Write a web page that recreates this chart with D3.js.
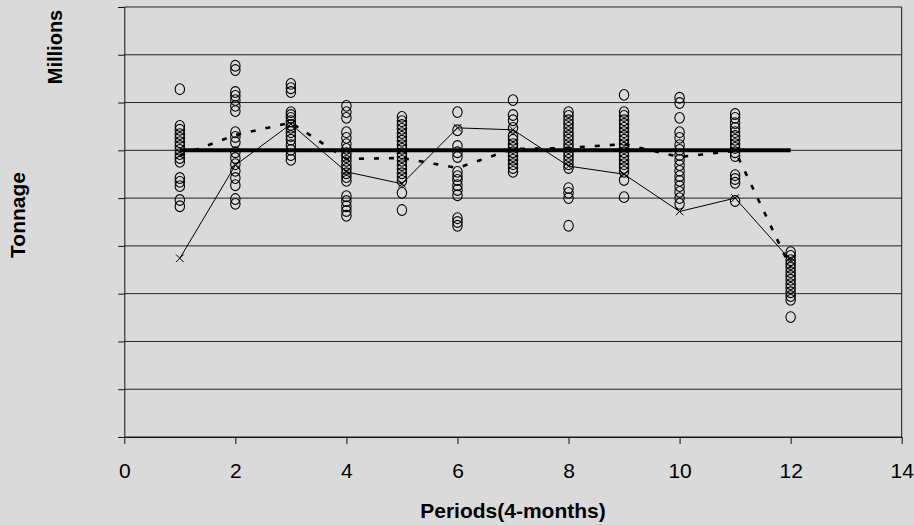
<!DOCTYPE html>
<html>
<head>
<meta charset="utf-8">
<script src="https://cdn.jsdelivr.net/npm/d3@7"></script>
<style>
  html, body { margin: 0; padding: 0; background: #dadada; }
  svg { display: block; }
  text { font-family: "Liberation Sans", Arial, sans-serif; fill: #000; }
</style>
</head>
<body>
<svg id="chart" width="914" height="525"></svg>
<script>
// Periods (4-month blocks) on the x axis
const periods = [1, 2, 3, 4, 5, 6, 7, 8, 9, 10, 11, 12];

// Individual tonnage observations per period (millions)
const observations = [
  [7.28, 6.51, 6.43, 6.34, 6.26, 6.17, 6.09, 6.01, 5.92, 5.84, 5.76, 5.42, 5.34, 5.25, 4.96, 4.83],
  [7.77, 7.68, 7.22, 7.14, 7.05, 6.93, 6.82, 6.38, 6.28, 6.17, 5.96, 5.84, 5.71, 5.57, 5.42, 5.27, 4.98, 4.88],
  [7.39, 7.30, 7.22, 6.80, 6.74, 6.68, 6.61, 6.53, 6.47, 6.38, 6.30, 6.22, 6.11, 6.01, 5.90, 5.80],
  [6.93, 6.80, 6.68, 6.38, 6.26, 6.13, 6.03, 5.94, 5.86, 5.78, 5.69, 5.61, 5.52, 5.44, 5.36, 5.04, 4.94, 4.83, 4.73, 4.63],
  [6.70, 6.61, 6.53, 6.45, 6.36, 6.28, 6.20, 6.11, 6.03, 5.94, 5.86, 5.78, 5.69, 5.61, 5.52, 5.44, 5.36, 5.11, 4.75],
  [6.80, 6.42, 6.09, 5.96, 5.86, 5.55, 5.46, 5.38, 5.27, 5.17, 5.06, 4.58, 4.50, 4.42],
  [7.05, 6.74, 6.63, 6.47, 6.30, 6.22, 6.13, 6.05, 5.96, 5.88, 5.80, 5.71, 5.63, 5.55],
  [6.80, 6.72, 6.63, 6.55, 6.47, 6.38, 6.30, 6.22, 6.13, 6.05, 5.96, 5.88, 5.80, 5.71, 5.63, 5.21, 5.11, 5.00, 4.42],
  [7.16, 6.80, 6.72, 6.63, 6.55, 6.47, 6.38, 6.30, 6.22, 6.13, 6.05, 5.96, 5.88, 5.80, 5.71, 5.63, 5.55, 5.38, 5.02],
  [7.10, 6.99, 6.68, 6.38, 6.26, 6.11, 6.01, 5.90, 5.80, 5.69, 5.57, 5.46, 5.36, 5.25, 5.13, 5.00, 4.88],
  [6.76, 6.68, 6.57, 6.47, 6.38, 6.30, 6.22, 6.13, 6.05, 5.96, 5.88, 5.48, 5.40, 5.32, 4.94],
  [3.87, 3.79, 3.70, 3.62, 3.54, 3.45, 3.37, 3.29, 3.20, 3.12, 3.03, 2.95, 2.87, 2.51]
];

// Per-period series drawn as a thin line with x markers
const sampleSeries = [3.74, 5.69, 6.55, 5.55, 5.30, 6.47, 6.43, 5.67, 5.50, 4.72, 5.00, 3.70];

// Per-period series drawn as a heavy dashed line
const averageSeries = [5.89, 6.32, 6.58, 5.82, 5.84, 5.63, 6.03, 6.05, 6.13, 5.86, 5.99, 3.54];

// Overall level drawn as a thick flat line
const overallLevel = [6.0, 6.0];
const overallSpan = [1, 12];

// Axis ticks
const xTickValues = [0, 2, 4, 6, 8, 10, 12, 14];
const yGridValues = [0, 1, 2, 3, 4, 5, 6, 7, 8, 9];

const svg = d3.select("#chart");

const x = d3.scaleLinear().domain([0, 14]).range([124.3, 901.7]);
const y = d3.scaleLinear().domain([0, 9]).range([437, 7]);

// Horizontal gridlines
svg.append("g")
  .selectAll("line")
  .data(yGridValues)
  .join("line")
  .attr("x1", x(0)).attr("x2", x(14))
  .attr("y1", d => y(d)).attr("y2", d => y(d))
  .attr("stroke", "#222").attr("stroke-width", 1);

// Left axis: tick marks only, no labels
const yAxis = d3.axisLeft(y).tickValues(yGridValues).tickSize(6).tickFormat("");
svg.append("g")
  .attr("transform", `translate(${x(0)},0)`)
  .call(yAxis)
  .call(g => g.selectAll("path, line").attr("stroke", "#111"));

// Right border of the plot area
svg.append("line")
  .attr("x1", x(14)).attr("x2", x(14))
  .attr("y1", y(9)).attr("y2", y(0))
  .attr("stroke", "#111");

// Bottom axis
const xAxis = d3.axisBottom(x).tickValues(xTickValues).tickSize(7).tickPadding(19).tickSizeOuter(0);
svg.append("g")
  .attr("transform", `translate(0,${y(0)})`)
  .call(xAxis)
  .call(g => g.selectAll("path, line").attr("stroke", "#111"))
  .call(g => g.selectAll("text")
    .attr("font-size", 21)
    .attr("font-family", "'Liberation Sans', Arial, sans-serif")
    .attr("fill", "#000"));

// Thick overall level line
svg.append("path")
  .datum(overallSpan.map((p, i) => [p, overallLevel[i]]))
  .attr("d", d3.line().x(d => x(d[0])).y(d => y(d[1])))
  .attr("fill", "none")
  .attr("stroke", "#000")
  .attr("stroke-width", 4);

// Observation markers (open circles)
const points = observations.flatMap((vals, i) => vals.map(v => ({ p: periods[i], v })));
svg.append("g")
  .selectAll("ellipse")
  .data(points)
  .join("ellipse")
  .attr("cx", d => x(d.p))
  .attr("cy", d => y(d.v))
  .attr("rx", 4.7)
  .attr("ry", 5.4)
  .attr("fill", "none")
  .attr("stroke", "#000")
  .attr("stroke-width", 1.1);

// Thin series with x markers
const line = d3.line().x((d, i) => x(periods[i])).y(d => y(d));
svg.append("path")
  .datum(sampleSeries)
  .attr("d", line)
  .attr("fill", "none")
  .attr("stroke", "#000")
  .attr("stroke-width", 1);

const cross = d3.symbol().type(d3.symbolX).size(40);
svg.append("g")
  .selectAll("path")
  .data(sampleSeries)
  .join("path")
  .attr("transform", (d, i) => `translate(${x(periods[i])},${y(d)})`)
  .attr("d", cross)
  .attr("fill", "none")
  .attr("stroke", "#000")
  .attr("stroke-width", 1);

// Heavy dashed series
svg.append("path")
  .datum(averageSeries)
  .attr("d", line)
  .attr("fill", "none")
  .attr("stroke", "#000")
  .attr("stroke-width", 2.6)
  .attr("stroke-dasharray", "5,10");

// Axis titles
svg.append("text")
  .attr("x", (x(0) + x(14)) / 2)
  .attr("y", 518)
  .attr("text-anchor", "middle")
  .attr("font-size", 21)
  .attr("font-weight", "bold")
  .text("Periods(4-months)");

svg.append("text")
  .attr("transform", "translate(25,215) rotate(-90)")
  .attr("text-anchor", "middle")
  .attr("font-size", 21)
  .attr("font-weight", "bold")
  .text("Tonnage");

svg.append("text")
  .attr("transform", "translate(62,47) rotate(-90)")
  .attr("text-anchor", "middle")
  .attr("font-size", 20)
  .attr("font-weight", "bold")
  .text("Millions");
</script>
</body>
</html>
